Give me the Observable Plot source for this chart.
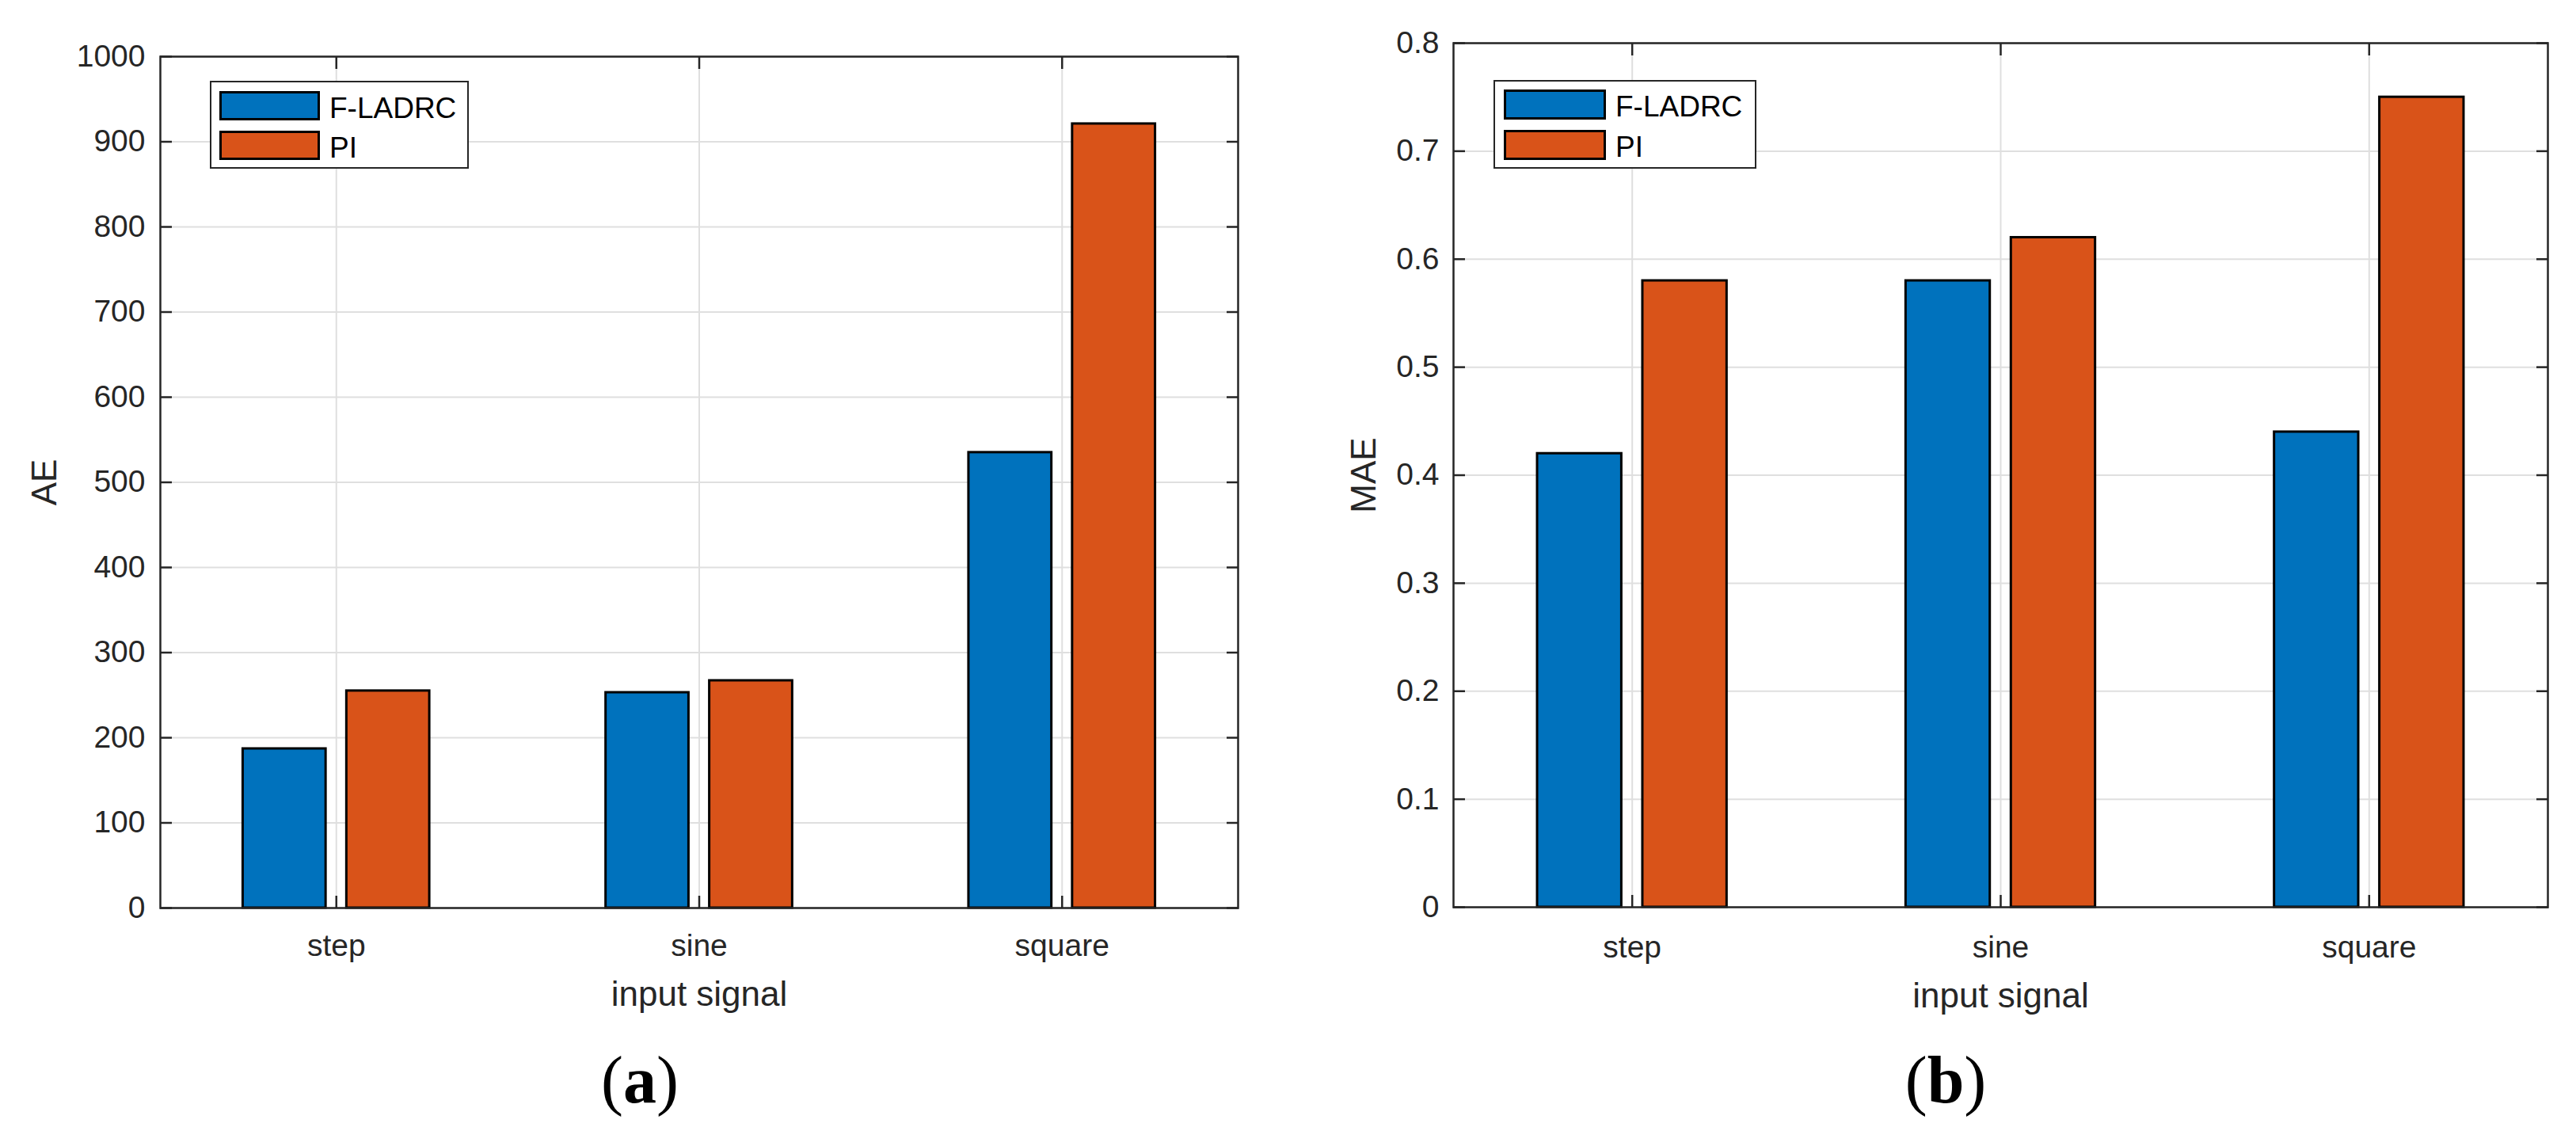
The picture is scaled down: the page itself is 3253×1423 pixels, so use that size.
<!DOCTYPE html>
<html><head><meta charset="utf-8">
<script src="https://cdn.jsdelivr.net/npm/d3@7"></script>
<script src="https://cdn.jsdelivr.net/npm/@observablehq/plot@0.6"></script>
<style>
html,body{margin:0;padding:0;background:#fff;}
#root{position:relative;width:3253px;height:1423px;overflow:hidden;font-family:'Liberation Sans',Arial,sans-serif;background:#fff;}
.legend{position:absolute;box-sizing:border-box;border:2.5px solid #262626;background:#fff;}
.sw{position:absolute;box-sizing:border-box;border:3px solid #000;}
.lt{position:absolute;font-family:'Liberation Sans',Arial,sans-serif;font-size:37px;line-height:37px;color:#000;white-space:nowrap;}
.cap{position:absolute;font-family:'Liberation Serif','DejaVu Serif',serif;font-size:84px;line-height:84px;color:#000;transform:translateX(-50%);white-space:nowrap;}
</style></head><body><div id="root"></div>
<script>
// ---- data ----
const categories = ["step", "sine", "square"];
const seriesNames = ["F-LADRC", "PI"];
const seriesColors = ["#0072BD", "#D95319"];
const aeFLADRC = [187, 253, 535];
const aePI = [255, 267, 921];
const maeFLADRC = [0.42, 0.58, 0.44];
const maePI = [0.58, 0.62, 0.75];
const aeTicks = [0, 100, 200, 300, 400, 500, 600, 700, 800, 900, 1000];
const maeTicks = [0, 0.1, 0.2, 0.3, 0.4, 0.5, 0.6, 0.7, 0.8];
const xLabel = "input signal";
const panelLetters = ["a", "b"];

// ---- layout ----
const root = document.getElementById("root");
const nS = seriesNames.length;
const groupWidth = Math.min(0.8, nS / (nS + 1.5));
const barW = groupWidth / nS * 0.8;
const offset = s => (s - (nS - 1) / 2) * groupWidth / nS;
const catPos = categories.map((c, i) => i + 1);

function panel(cfg) {
  const rows = categories.flatMap((c, i) => cfg.values.map((v, s) => ({cat: c, pos: catPos[i], s, series: seriesNames[s], value: v[i]})));
  const tickCol = "#262626";
  const chart = Plot.plot({
    width: cfg.width, height: cfg.height,
    marginLeft: cfg.mL, marginRight: cfg.mR, marginTop: cfg.mT, marginBottom: cfg.mB,
    style: {fontFamily: "'Liberation Sans', Arial, sans-serif", fontSize: "39px", color: tickCol, background: "transparent", overflow: "visible"},
    x: {domain: [0.515, 3.485]},
    y: {domain: [0, cfg.ticks[cfg.ticks.length - 1]]},
    color: {domain: seriesNames, range: seriesColors},
    marks: [
      Plot.gridY(cfg.ticks, {stroke: "#dfdfdf", strokeOpacity: 1, strokeWidth: 2}),
      Plot.gridX(catPos, {stroke: "#dfdfdf", strokeOpacity: 1, strokeWidth: 2}),
      Plot.rect(rows, {
        x1: d => d.pos + offset(d.s) - barW / 2,
        x2: d => d.pos + offset(d.s) + barW / 2,
        y1: 0, y2: "value", fill: "series", stroke: "#000", strokeWidth: 3
      }),
      Plot.axisY(cfg.ticks, {anchor: "left", tickSize: 0, tickPadding: cfg.yPad, label: null, fill: tickCol, tickFormat: d => String(d)}),
      Plot.axisX(catPos, {anchor: "bottom", tickSize: 0, tickPadding: cfg.xPad, label: null, fill: tickCol, tickFormat: p => categories[p - 1]}),
      Plot.axisY(cfg.ticks, {anchor: "left", tickSize: 15, dx: 15, fill: "none", label: null, stroke: tickCol, strokeWidth: 2.5}),
      Plot.axisY(cfg.ticks, {anchor: "right", tickSize: 15, dx: -15, fill: "none", label: null, stroke: tickCol, strokeWidth: 2.5}),
      Plot.axisX(catPos, {anchor: "bottom", tickSize: 15, dy: -15, fill: "none", label: null, stroke: tickCol, strokeWidth: 2.5}),
      Plot.axisX(catPos, {anchor: "top", tickSize: 15, dy: 15, fill: "none", label: null, stroke: tickCol, strokeWidth: 2.5}),
      Plot.frame({stroke: tickCol, strokeWidth: 2.5}),
      Plot.text([cfg.yLabel], {text: d => d, frameAnchor: "left", dx: cfg.yLabelDx, rotate: -90, textAnchor: "middle", lineAnchor: "middle", fontSize: 44, fill: tickCol}),
      Plot.text([xLabel], {text: d => d, frameAnchor: "bottom", dy: cfg.xLabelDy, textAnchor: "middle", lineAnchor: "bottom", fontSize: 44, fill: tickCol})
    ]
  });
  chart.style.position = "absolute";
  chart.style.left = cfg.left + "px";
  chart.style.top = "0px";
  root.appendChild(chart);

  // legend
  const L = cfg.legend;
  const box = document.createElement("div");
  box.className = "legend";
  Object.assign(box.style, {left: L.x + "px", top: L.y + "px", width: L.w + "px", height: L.h + "px"});
  root.appendChild(box);
  seriesNames.forEach((name, s) => {
    const sw = document.createElement("div");
    sw.className = "sw";
    Object.assign(sw.style, {left: L.swX + "px", top: (L.swY + s * L.step) + "px", width: L.swW + "px", height: L.swH + "px", background: seriesColors[s]});
    root.appendChild(sw);
    const t = document.createElement("div");
    t.className = "lt";
    t.textContent = name;
    Object.assign(t.style, {left: L.tX + "px", top: (L.swY + s * L.step + 3) + "px"});
    root.appendChild(t);
  });

  // caption
  const cap = document.createElement("div");
  cap.className = "cap";
  cap.innerHTML = "(<b>" + cfg.letter + "</b>)";
  Object.assign(cap.style, {left: cfg.capX + "px", top: cfg.capY + "px"});
  root.appendChild(cap);
}

panel({
  values: [aeFLADRC, aePI], ticks: aeTicks, yLabel: "AE", letter: panelLetters[0],
  left: 0, width: 1625, height: 1300, mL: 202, mR: 62, mT: 71, mB: 154,
  yPad: 19, xPad: 33, yLabelDx: -146, xLabelDy: 123,
  legend: {x: 265, y: 102, w: 327, h: 111, swX: 277, swY: 115, swW: 127, swH: 37, step: 50, tX: 416},
  capX: 808, capY: 1322
});
panel({
  values: [maeFLADRC, maePI], ticks: maeTicks, yLabel: "MAE", letter: panelLetters[1],
  left: 1625, width: 1628, height: 1300, mL: 210, mR: 36, mT: 54, mB: 155,
  yPad: 18, xPad: 36, yLabelDx: -113, xLabelDy: 126,
  legend: {x: 1886, y: 101, w: 332, h: 112, swX: 1899, swY: 113, swW: 129, swH: 38, step: 51, tX: 2040},
  capX: 2457, capY: 1322
});
</script></body></html>
